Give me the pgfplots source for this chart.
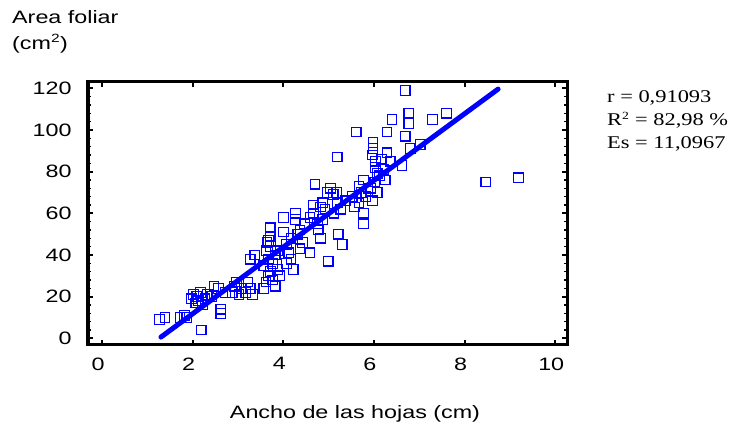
\documentclass[border=0pt]{standalone}
\usepackage{fontspec}
\setmainfont{Liberation Sans}[FakeStretch=1.3]
\newfontfamily\statfont{Liberation Serif}[FakeStretch=1.25]
\usepackage{pgfplots}
\pgfplotsset{compat=1.18}
\definecolor{ptblue}{RGB}{0,0,255}

\begin{document}
\begin{tikzpicture}
\path[use as bounding box] (0,0) rectangle (737bp,428bp);
\begin{axis}[
    at={(88bp,83bp)}, anchor=south west,
    width=479bp, height=263bp, scale only axis,
    xmin=-0.31, xmax=10.26,
    ymin=-3.2, ymax=123,
    xtick={0,2,...,10},
    ytick={0,20,...,120},
    minor y tick num=4,
    axis line style={line width=3bp},
    major tick style={line width=2bp, black},
    minor tick style={line width=1.3bp, black},
    major tick length=5bp,
    minor tick length=3bp,
    xticklabel pos=bottom, yticklabel pos=left,
    tick label style={font=\fontsize{18}{20}\selectfont},
    xticklabel style={yshift=-9bp, xshift=-4bp},
    yticklabel style={xshift=-13bp},
    /pgf/number format/assume math mode=true,
    clip=false,
]
\addplot[only marks, mark=square, mark size=4.8bp, ptblue, line width=1.2bp] coordinates {
(1.27,9) (1.39,10) (1.72,10) (1.82,11) (1.87,10)
(2.19,4)
(1.97,19) (2.02,21) (2.09,20) (2.12,18) (2.17,22) (2.07,17) (2.27,19) (2.32,21) (2.22,16)
(2.62,12) (2.62,14) (2.47,25) (2.57,24) (2.42,20) (2.72,22)
(2.87,22) (2.92,25) (2.97,27) (3.07,24) (3.02,21) (3.17,22) (3.27,24) (3.32,21) (3.22,27)
(3.27,38) (3.37,40)
(3.57,24) (3.62,27) (3.67,30) (3.72,32) (3.77,28) (3.82,25) (3.87,33) (3.57,35) (3.67,38)
(3.77,36) (3.92,30) (3.62,42) (3.72,44) (3.67,47) (3.64,46) (3.71,49) (3.71,53) (3.82,40) (3.87,42)
(4.07,36) (4.12,41) (4.17,38) (4.22,33) (4.07,45) (4.00,51) (4.00,58) (4.27,60) (4.27,57)
(4.17,48) (4.32,50) (4.37,52) (4.42,46) (4.47,55) (4.37,43)
(4.59,41) (4.59,58) (4.75,55) (4.66,64) (4.70,74) (4.82,63) (4.82,48) (4.67,60) (4.77,52)
(4.87,57) (4.92,62) (4.99,37) (4.87,65)
(5.04,72) (4.97,70) (5.10,69) (5.19,65) (5.17,70) (5.21,50) (5.30,45) (5.12,60) (5.27,62)
(5.19,87) (5.37,66)
(5.52,68) (5.61,99) (5.57,63) (5.67,65) (5.72,70) (5.77,76) (5.77,60) (5.77,55) (5.82,68)
(5.87,72) (5.92,72) (5.97,66) (6.07,70) (6.02,75) (5.67,73)
(5.98,94) (5.98,91) (6.03,85) (6.03,82) (5.97,88) (6.07,79) (6.21,81) (6.25,76) (6.29,89)
(6.36,85) (6.29,99) (6.40,105) (6.62,83) (6.69,97) (6.69,119) (6.77,108) (6.77,103)
(6.80,91) (7.02,93) (7.29,105) (7.60,108) (6.17,86) (6.12,78)
(8.47,75) (9.19,77)
};
\addplot[ptblue, line width=5bp, line cap=round] coordinates {(1.30,0.6) (8.74,119.6)};
\end{axis}
\node[anchor=north west, align=left, inner sep=0pt, font=\fontsize{18}{26}\selectfont]
    at (12bp,418bp) {Area foliar\\(cm\textsuperscript{\fontsize{12}{12}\selectfont 2})};
\node[anchor=base, inner sep=0pt, font=\fontsize{18}{20}\selectfont]
    at (355bp,10bp) {Ancho de las hojas (cm)};
\begin{scope}[every node/.style={anchor=base west, inner sep=0pt, font=\statfont\fontsize{18}{20}\selectfont}]
\node at (607bp,325bp) {r = 0,91093};
\node at (607bp,302bp) {R\textsuperscript{\fontsize{11}{11}\selectfont 2} = 82,98 \%};
\node at (607bp,279bp) {Es = 11,0967};
\end{scope}
\end{tikzpicture}
\end{document}
